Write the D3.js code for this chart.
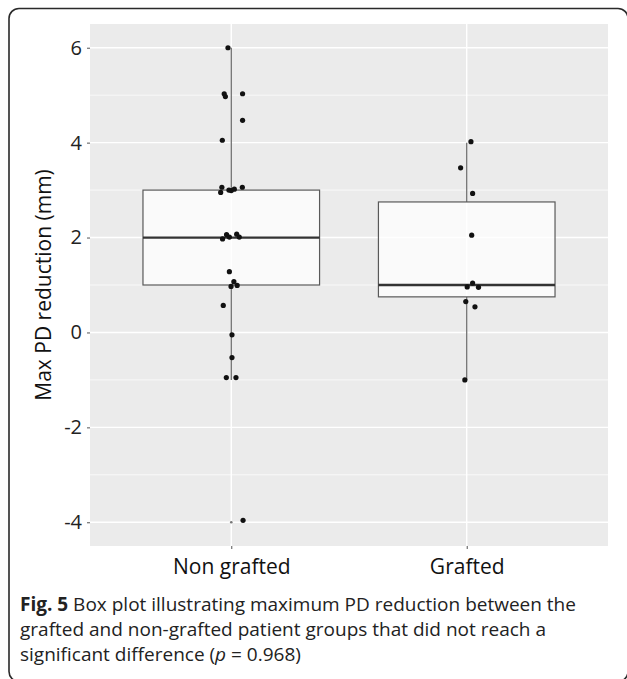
<!DOCTYPE html>
<html>
<head>
<meta charset="utf-8">
<script src="https://cdn.jsdelivr.net/npm/d3@7"></script>
<style>
  body { margin: 0; background: #fff; }
  svg { display: block; font-family: "Open Sans", "Noto Sans", sans-serif; }
</style>
</head>
<body>
<div id="chart"></div>
<script>
// groups on the x axis
const groups = ['Non grafted', 'Grafted'];

// box statistics
const q1 = [1, 0.75];
const medians = [2, 1];
const q3 = [3, 2.75];
const whiskerLow = [-1, -1];
const whiskerHigh = [6, 4];
const outliers = [-4, null];

// jittered points: value and horizontal jitter (in group units)
const nonGraftedValues = [6, 5.03, 4.97, 5.03, 4.47, 4.05, 3.06, 2.95, 3.0, 2.99, 3.02, 3.06,
  1.97, 2.06, 2.01, 2.07, 2.01, 1.28, 1.07, 0.97, 0.99, 0.57, -0.05, -0.53, -0.95, -0.95, -3.96];
const nonGraftedJitter = [-0.014, -0.03, -0.025, 0.048, 0.048, -0.038, -0.04, -0.045, -0.01, 0.0, 0.013, 0.047,
  -0.037, -0.02, -0.008, 0.023, 0.034, -0.008, 0.011, -0.001, 0.025, -0.034, 0.003, 0.003, -0.021, 0.02, 0.05];
const graftedValues = [4.02, 3.47, 2.93, 2.05, 1.04, 0.96, 0.95, 0.65, 0.54, -1.0];
const graftedJitter = [0.018, -0.026, 0.025, 0.021, 0.025, 0.002, 0.05, -0.004, 0.035, -0.008];

const yTicks = [-4, -2, 0, 2, 4, 6];
const yMinor = [-3, -1, 1, 3, 5];

const width = 627, height = 679;
const panel = { left: 90, right: 608, top: 24, bottom: 546 };

const svg = d3.select('#chart').append('svg')
  .attr('width', width)
  .attr('height', height);

// outer frame
svg.append('rect')
  .attr('x', 9).attr('y', 8.5)
  .attr('width', 619).attr('height', 673)
  .attr('rx', 10)
  .attr('fill', '#fff')
  .attr('stroke', '#2a2a2a')
  .attr('stroke-width', 1.6);

// scales (ggplot-like expansion: discrete 0.6, continuous 5%)
const x = d3.scaleLinear().domain([0.4, 2.6]).range([panel.left, panel.right]);
const y = d3.scaleLinear().domain([-4.5, 6.5]).range([panel.bottom, panel.top]);

svg.append('rect')
  .attr('x', panel.left).attr('y', panel.top)
  .attr('width', panel.right - panel.left)
  .attr('height', panel.bottom - panel.top)
  .attr('fill', '#ebebeb');

// grid
const grid = svg.append('g');
grid.selectAll('.minor').data(yMinor).enter().append('line')
  .attr('x1', panel.left).attr('x2', panel.right)
  .attr('y1', d => y(d)).attr('y2', d => y(d))
  .attr('stroke', '#fff').attr('stroke-width', 0.7);
grid.selectAll('.major').data(yTicks).enter().append('line')
  .attr('x1', panel.left).attr('x2', panel.right)
  .attr('y1', d => y(d)).attr('y2', d => y(d))
  .attr('stroke', '#fff').attr('stroke-width', 1.4);
grid.selectAll('.vmajor').data(groups).enter().append('line')
  .attr('x1', (d, i) => x(i + 1)).attr('x2', (d, i) => x(i + 1))
  .attr('y1', panel.top).attr('y2', panel.bottom)
  .attr('stroke', '#fff').attr('stroke-width', 1.4);

// boxplots
const boxW = 0.75;
const boxes = svg.append('g');
groups.forEach((g, i) => {
  const cx = x(i + 1);
  boxes.append('line')
    .attr('x1', cx).attr('x2', cx)
    .attr('y1', y(whiskerHigh[i])).attr('y2', y(q3[i]))
    .attr('stroke', '#666').attr('stroke-width', 1.2);
  boxes.append('line')
    .attr('x1', cx).attr('x2', cx)
    .attr('y1', y(q1[i])).attr('y2', y(whiskerLow[i]))
    .attr('stroke', '#666').attr('stroke-width', 1.2);
  boxes.append('rect')
    .attr('x', x(i + 1 - boxW / 2))
    .attr('y', y(q3[i]))
    .attr('width', x(i + 1 + boxW / 2) - x(i + 1 - boxW / 2))
    .attr('height', y(q1[i]) - y(q3[i]))
    .attr('fill', '#fff').attr('fill-opacity', 0.72)
    .attr('stroke', '#595959').attr('stroke-width', 1.2);
  boxes.append('line')
    .attr('x1', x(i + 1 - boxW / 2)).attr('x2', x(i + 1 + boxW / 2))
    .attr('y1', y(medians[i])).attr('y2', y(medians[i]))
    .attr('stroke', '#333').attr('stroke-width', 2.3);
  if (outliers[i] !== null) {
    boxes.append('circle')
      .attr('cx', cx).attr('cy', y(outliers[i]))
      .attr('r', 1.3).attr('fill', '#777');
  }
});

// jittered points
const pts = svg.append('g');
pts.selectAll('.ng').data(nonGraftedValues).enter().append('circle')
  .attr('cx', (d, i) => x(1 + nonGraftedJitter[i]))
  .attr('cy', d => y(d))
  .attr('r', 2.6).attr('fill', '#111');
pts.selectAll('.gr').data(graftedValues).enter().append('circle')
  .attr('cx', (d, i) => x(2 + graftedJitter[i]))
  .attr('cy', d => y(d))
  .attr('r', 2.6).attr('fill', '#111');

// axes
const yAxis = svg.append('g')
  .attr('transform', `translate(${panel.left},0)`)
  .call(d3.axisLeft(y).tickValues(yTicks).tickSize(3).tickPadding(5).tickFormat(d => String(d)));
yAxis.select('.domain').remove();
yAxis.selectAll('line').attr('stroke', '#555');
yAxis.selectAll('text').attr('font-size', 20).attr('fill', '#222')
  .attr('font-family', '"Open Sans", sans-serif');

const xAxis = svg.append('g')
  .attr('transform', `translate(0,${panel.bottom})`)
  .call(d3.axisBottom(x).tickValues([1, 2]).tickSize(3).tickPadding(10).tickFormat(d => groups[d - 1]));
xAxis.select('.domain').remove();
xAxis.selectAll('line').attr('stroke', '#555');
xAxis.selectAll('text').attr('font-size', 21).attr('fill', '#111')
  .attr('font-family', '"Open Sans", sans-serif');

svg.append('text')
  .attr('transform', `translate(45,${(panel.top + panel.bottom) / 2}) rotate(-90)`)
  .attr('text-anchor', 'middle')
  .attr('dominant-baseline', 'middle')
  .attr('font-size', 21).attr('fill', '#111')
  .text('Max PD reduction (mm)');

// caption
const caption = svg.append('text')
  .attr('x', 20)
  .attr('font-size', 19).attr('fill', '#222');
const l1 = caption.append('tspan').attr('x', 20).attr('y', 611);
l1.append('tspan').attr('font-weight', 'bold').text('Fig. 5');
l1.append('tspan').text(' Box plot illustrating maximum PD reduction between the');
caption.append('tspan').attr('x', 20).attr('y', 636)
  .text('grafted and non-grafted patient groups that did not reach a');
const l3 = caption.append('tspan').attr('x', 20).attr('y', 661);
l3.append('tspan').text('significant difference (');
l3.append('tspan').attr('font-style', 'italic').text('p');
l3.append('tspan').text(' = 0.968)');
</script>
</body>
</html>
